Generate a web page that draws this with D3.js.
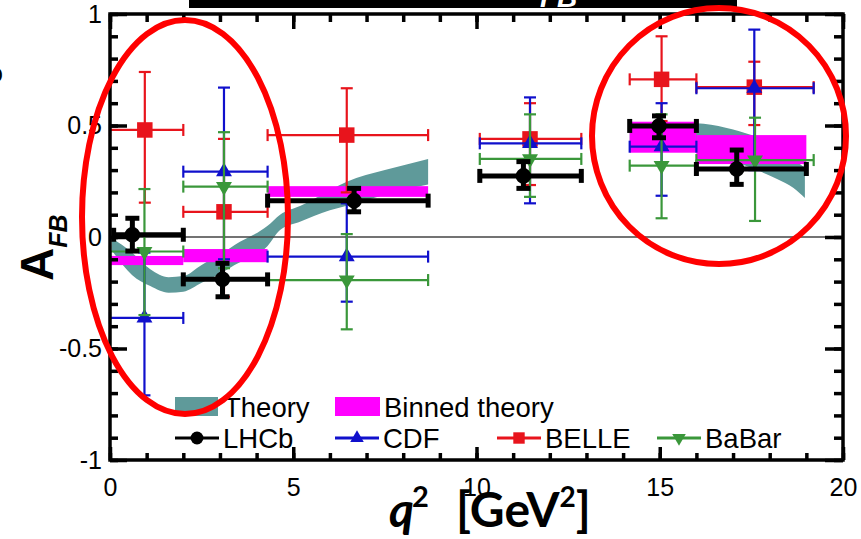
<!DOCTYPE html>
<html>
<head>
<meta charset="utf-8">
<script src="https://cdn.jsdelivr.net/npm/d3@7"></script>
<style>
  body { margin: 0; background: #fff; }
  svg { display: block; }
</style>
</head>
<body>
<div id="vis"></div>
<script>
// ---- data ----
const expBinLo = [0, 2, 4.3, 10.09, 14.18, 16];
const expBinHi = [2, 4.3, 8.68, 12.86, 16, 19.2];

const lhcbBinLo = [0.1, 2, 4.3, 10.09, 14.18, 16];
const lhcbBinHi = [2, 4.3, 8.68, 12.86, 16, 19];
const lhcbQ2  = [0.61, 3.07, 6.66, 11.28, 14.98, 17.10];
const lhcbAfb = [0.01, -0.19, 0.163, 0.274, 0.498, 0.305];
const lhcbLo  = [-0.063, -0.268, 0.113, 0.218, 0.445, 0.236];
const lhcbHi  = [0.084, -0.118, 0.218, 0.338, 0.543, 0.39];

const cdfQ2  = [0.94, 3.11, 6.46, 11.46, 15.05, 17.58];
const cdfAfb = [-0.363, 0.293, -0.088, 0.42, 0.405, 0.667];
const cdfLo  = [-0.71, -0.10, -0.29, 0.151, 0.185, 0.30];
const cdfHi  = [-0.07, 0.67, 0.151, 0.626, 0.60, 0.93];

const belleQ2  = [0.95, 3.11, 6.46, 11.46, 15.05, 17.58];
const belleAfb = [0.48, 0.113, 0.457, 0.44, 0.707, 0.672];
const belleLo  = [0.154, -0.268, 0.20, 0.233, 0.52, 0.502];
const belleHi  = [0.74, 0.44, 0.667, 0.60, 0.90, 0.786];

const babarQ2  = [0.94, 3.11, 6.46, 11.46, 15.05, 17.6];
const babarAfb = [-0.065, 0.226, -0.193, 0.35, 0.32, 0.345];
const babarLo  = [-0.35, -0.14, -0.414, 0.18, 0.084, 0.072];
const babarHi  = [0.215, 0.47, 0.013, 0.55, 0.55, 0.535];

// binned theory (magenta boxes)
const binnedLo   = [0, 2, 4.3, 14.18, 16];
const binnedHi   = [2, 4.3, 8.68, 16, 19];
const binnedBot  = [-0.126, -0.113, 0.18, 0.378, 0.327];
const binnedTop  = [-0.085, -0.054, 0.228, 0.517, 0.457];

// theory band, low and high q2 regions
const thLowQ2  = [0.05, 0.6, 1.1, 1.6, 2.0, 2.5, 3.0, 3.4, 4.3, 4.64, 5.2, 6.0, 6.46, 7.5, 8.68];
const thLowUp  = [-0.005, -0.07, -0.145, -0.18, -0.175, -0.125, -0.08, -0.036, 0.05, 0.10, 0.14, 0.21, 0.248, 0.30, 0.35];
const thLowDn  = [-0.06, -0.17, -0.22, -0.25, -0.245, -0.205, -0.165, -0.126, -0.04, 0.031, 0.07, 0.12, 0.14, 0.19, 0.235];
const thHighQ2 = [14.18, 15.0, 16.0, 16.8, 17.5, 18.2, 18.65, 18.96];
const thHighUp = [0.47, 0.50, 0.51, 0.49, 0.457, 0.405, 0.35, 0.31];
const thHighDn = [0.39, 0.41, 0.39, 0.35, 0.31, 0.26, 0.22, 0.175];

const xTickLabels = [0, 5, 10, 15, 20];
const yTickLabels = [-1, -0.5, 0, 0.5, 1];

const colTheory = "#5f9a9a", colBinned = "#ff00ff";
const colLhcb = "#000", colCdf = "#1010cc", colBelle = "#e8141c", colBabar = "#3a973a";

// ---- layout ----
const W = 861, H = 539;
const margin = { top: 14, right: 18, bottom: 79, left: 110 },
      width = W - margin.left - margin.right,
      height = H - margin.top - margin.bottom;

const root = d3.select("#vis").append("svg")
  .attr("width", W).attr("height", H)
  .style("font-family", "'Liberation Sans', Arial, sans-serif");

const svg = root.append("g")
  .attr("transform", `translate(${margin.left},${margin.top})`);

const x = d3.scaleLinear().domain([0, 20]).range([0, width]);
const y = d3.scaleLinear().domain([-1, 1]).range([height, 0]);

// theory band
const area = d3.area()
  .x(d => x(d[0])).y0(d => y(d[2])).y1(d => y(d[1]))
  .curve(d3.curveMonotoneX);
[[thLowQ2, thLowUp, thLowDn], [thHighQ2, thHighUp, thHighDn]].forEach(([q, u, l]) => {
  svg.append("path")
    .datum(q.map((v, i) => [v, u[i], l[i]]))
    .attr("fill", colTheory)
    .attr("d", area);
});

// binned theory
svg.selectAll("rect.bin")
  .data(binnedLo.map((v, i) => ({ lo: v, hi: binnedHi[i], b: binnedBot[i], t: binnedTop[i] })))
  .join("rect")
    .attr("class", "bin")
    .attr("x", d => x(d.lo))
    .attr("width", d => x(d.hi) - x(d.lo))
    .attr("y", d => y(d.t))
    .attr("height", d => y(d.b) - y(d.t))
    .attr("fill", colBinned);

// zero line
svg.append("line")
  .attr("x1", 0).attr("x2", width)
  .attr("y1", y(0)).attr("y2", y(0))
  .attr("stroke", "#444").attr("stroke-width", 1.5);

// error bars + markers
function drawSeries(q2, afb, lo, hi, bLo, bHi, color, sym, size, rot, sw, cap) {
  const g = svg.append("g").attr("stroke", color).attr("stroke-width", sw);
  q2.forEach((q, i) => {
    const cx = x(q), cy = y(afb[i]);
    g.append("line").attr("x1", x(bLo[i])).attr("x2", x(bHi[i])).attr("y1", cy).attr("y2", cy);
    g.append("line").attr("x1", cx).attr("x2", cx).attr("y1", y(lo[i])).attr("y2", y(hi[i]));
    [bLo[i], bHi[i]].forEach(v => g.append("line")
      .attr("x1", x(v)).attr("x2", x(v)).attr("y1", cy - cap).attr("y2", cy + cap));
    [lo[i], hi[i]].forEach(v => g.append("line")
      .attr("x1", cx - cap).attr("x2", cx + cap).attr("y1", y(v)).attr("y2", y(v)));
    svg.append("path")
      .attr("d", d3.symbol().type(sym).size(size)())
      .attr("transform", `translate(${cx},${cy}) rotate(${rot})`)
      .attr("fill", color);
  });
}
drawSeries(belleQ2, belleAfb, belleLo, belleHi, expBinLo, expBinHi, colBelle, d3.symbolSquare, 240, 0, 2.2, 6);
drawSeries(cdfQ2, cdfAfb, cdfLo, cdfHi, expBinLo, expBinHi, colCdf, d3.symbolTriangle, 110, 0, 2.2, 6);
drawSeries(babarQ2, babarAfb, babarLo, babarHi, expBinLo, expBinHi, colBabar, d3.symbolTriangle, 110, 180, 2.2, 6);
drawSeries(lhcbQ2, lhcbAfb, lhcbLo, lhcbHi, lhcbBinLo, lhcbBinHi, colLhcb, d3.symbolCircle, 190, 0, 5, 7);

// axes: ticks pointing inward on all four sides
function styleAxis(g) {
  g.select(".domain").remove();
  g.selectAll(".tick line").attr("stroke", "#000").attr("stroke-width", 3.5);
  g.selectAll(".tick text").attr("fill", "#000").style("font-size", "25px")
    .style("font-family", "'Liberation Sans', Arial, sans-serif");
}
const xMinor = d3.range(0, 21, 1), yMinor = d3.range(-10, 11).map(v => v / 10);

svg.append("g").attr("transform", `translate(0,${height})`)
  .call(d3.axisBottom(x).tickValues(xMinor).tickSize(-7).tickFormat("")).call(styleAxis);
svg.append("g").attr("transform", `translate(0,${height})`)
  .call(d3.axisBottom(x).tickValues(xTickLabels).tickSize(-13).tickPadding(18)).call(styleAxis);
svg.append("g")
  .call(d3.axisTop(x).tickValues(xMinor).tickSize(-8).tickFormat("")).call(styleAxis);
svg.append("g")
  .call(d3.axisTop(x).tickValues(xTickLabels).tickSize(-15).tickFormat("")).call(styleAxis);
svg.append("g")
  .call(d3.axisLeft(y).tickValues(yMinor).tickSize(-8).tickFormat("")).call(styleAxis);
svg.append("g")
  .call(d3.axisLeft(y).tickValues(yTickLabels).tickSize(-17).tickPadding(8)
    .tickFormat(d => d === 0 ? "0" : String(d))).call(styleAxis);
svg.append("g").attr("transform", `translate(${width},0)`)
  .call(d3.axisRight(y).tickValues(yMinor).tickSize(-9).tickFormat("")).call(styleAxis);
svg.append("g").attr("transform", `translate(${width},0)`)
  .call(d3.axisRight(y).tickValues(yTickLabels).tickSize(-18).tickFormat("")).call(styleAxis);

// frame
svg.append("rect")
  .attr("width", width).attr("height", height)
  .attr("fill", "none").attr("stroke", "#000").attr("stroke-width", 3.5);

// legend
const lg = svg.append("g").style("font-size", "27.5px");
const lx = v => v - margin.left, ly = v => v - margin.top;
lg.append("rect").attr("x", lx(175)).attr("y", ly(397)).attr("width", 43).attr("height", 19).attr("fill", colTheory);
lg.append("text").attr("x", lx(224)).attr("y", ly(417)).text("Theory");
lg.append("rect").attr("x", lx(335)).attr("y", ly(397)).attr("width", 45).attr("height", 19).attr("fill", colBinned);
lg.append("text").attr("x", lx(384)).attr("y", ly(417)).text("Binned theory");

const legendItems = [
  { name: "LHCb", c: colLhcb, sym: d3.symbolCircle, size: 130, rot: 0, x0: 175 },
  { name: "CDF", c: colCdf, sym: d3.symbolTriangle, size: 80, rot: 0, x0: 335 },
  { name: "BELLE", c: colBelle, sym: d3.symbolSquare, size: 130, rot: 0, x0: 497 },
  { name: "BaBar", c: colBabar, sym: d3.symbolTriangle, size: 80, rot: 180, x0: 657 }
];
legendItems.forEach(it => {
  lg.append("line").attr("x1", lx(it.x0)).attr("x2", lx(it.x0 + 44))
    .attr("y1", ly(438)).attr("y2", ly(438)).attr("stroke", it.c).attr("stroke-width", 3);
  lg.append("path").attr("d", d3.symbol().type(it.sym).size(it.size)())
    .attr("transform", `translate(${lx(it.x0 + 22)},${ly(438)}) rotate(${it.rot})`)
    .attr("fill", it.c);
  lg.append("text").attr("x", lx(it.x0 + 48)).attr("y", ly(448)).text(it.name);
});

// axis titles
const yt = root.append("text")
  .attr("transform", "translate(53,281) rotate(-90)")
  .style("font-weight", "bold");
yt.append("tspan").style("font-size", "46px").text("A");
yt.append("tspan").attr("dy", 14).style("font-size", "25px").style("font-style", "italic").text("FB");

const xt = root.append("text")
  .attr("y", 527)
  .style("font-family", "Lato, 'Open Sans', sans-serif")
  .style("font-weight", "bold").style("font-size", "48px");
xt.append("tspan").attr("x", 389).style("font-style", "italic").text("q");
xt.append("tspan").attr("dx", -2).attr("dy", -20).style("font-size", "29px").text("2");
xt.append("tspan").attr("x", 456).attr("dy", 20).text("[GeV");
xt.append("tspan").attr("dy", -20).style("font-size", "28px").text("2");
xt.append("tspan").attr("dy", 20).text("]");

// cut-off title bar at the top
root.append("rect").attr("x", 189).attr("y", 0).attr("width", 548).attr("height", 8).attr("fill", "#000");
root.append("text").attr("x", 540).attr("y", 7)
  .attr("fill", "#fff").style("font-weight", "bold").style("font-style", "italic")
  .style("font-size", "28px").text("FB");
// stray glyph at the very left edge
root.append("text").attr("x", 3).attr("y", 82).attr("text-anchor", "end")
  .style("font-size", "26px").text("o");

// red highlight ellipses
root.append("ellipse").attr("cx", 185).attr("cy", 217).attr("rx", 103).attr("ry", 197)
  .attr("fill", "none").attr("stroke", "#f00").attr("stroke-width", 6);
root.append("ellipse").attr("cx", 719).attr("cy", 136).attr("rx", 127).attr("ry", 128)
  .attr("fill", "none").attr("stroke", "#f00").attr("stroke-width", 6);
</script>
</body>
</html>
